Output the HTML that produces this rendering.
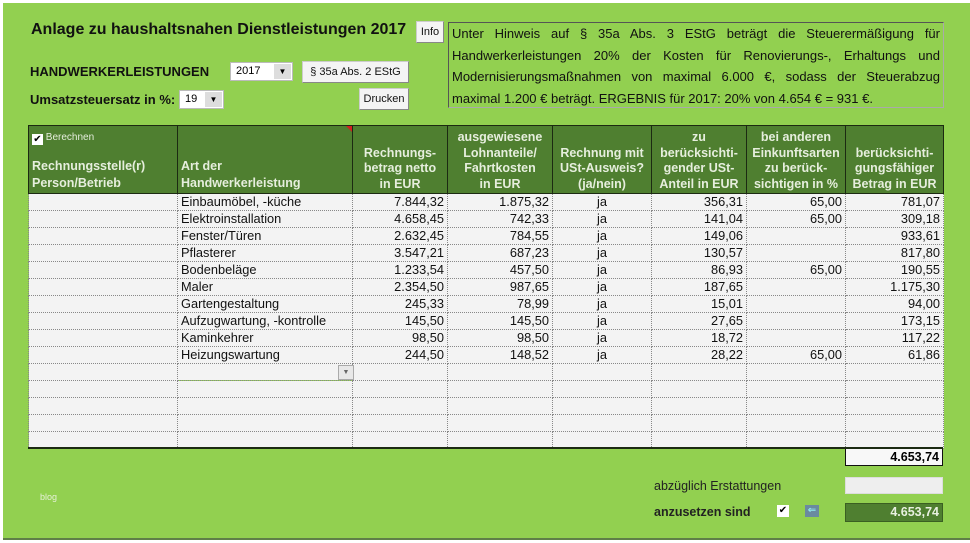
<!DOCTYPE html>
<html><head><meta charset="utf-8"><style>
*{margin:0;padding:0;box-sizing:border-box}
body{width:970px;height:543px;background:#fff;position:relative;overflow:hidden;font-family:"Liberation Sans",Arial,sans-serif}
.bg{position:absolute;left:3px;top:3px;width:967px;height:537px;background:#92d050;border-bottom:2px solid #5f7f48}
.a{position:absolute;white-space:nowrap}
.btn{position:absolute;background:#f4f4f4;border:1px solid #ccc;border-right-color:#888;border-bottom-color:#888;font-size:11px;text-align:center;color:#111}
table{position:absolute;left:28px;top:125px;border-collapse:collapse;table-layout:fixed;font-size:12.8px}
th{background:#4f7f30;color:#e6eedd;font-weight:bold;font-size:12.5px;height:68px;border:1px solid #1c2a12;vertical-align:bottom;line-height:15.5px;padding-bottom:1px}
td{background:#f3f3f3;height:17px;border:1px dotted #888;padding:0 3px;line-height:16px;color:#111}
td.r{text-align:right}td.c{text-align:center}
</style></head><body>
<div class="bg"></div>
<div class="a" style="left:31px;top:21px;font-size:16px;font-weight:bold;color:#111">Anlage zu haushaltsnahen Dienstleistungen 2017</div>
<div class="btn" style="left:416px;top:21px;width:28px;height:22px;line-height:20px">Info</div>
<div class="a" style="left:448px;top:22px;width:496px;height:86px;border:1px solid #aaa;border-left-color:#555;border-top-color:#555;font-size:13px;line-height:21.5px;color:#111;padding:0 3px;text-align:justify;text-align-last:justify;white-space:normal">Unter Hinweis auf § 35a Abs. 3 EStG beträgt die Steuerermäßigung für Handwerkerleistungen 20% der Kosten für Renovierungs-, Erhaltungs und Modernisierungsmaßnahmen von maximal 6.000 €, sodass der Steuerabzug <span style="display:inline-block;text-align-last:left">maximal 1.200 € beträgt. ERGEBNIS für 2017: 20% von 4.654 € = 931 €.</span></div>
<div class="a" style="left:30px;top:64px;font-size:13px;font-weight:bold;color:#111">HANDWERKERLEISTUNGEN</div>
<div class="a" style="left:230px;top:62px;width:63px;height:19px;background:#fff;border:1px solid #bbb;font-size:11px;line-height:17px;padding-left:5px">2017<span style="position:absolute;right:1px;top:1px;width:17px;height:15px;background:#ddd;font-size:8px;text-align:center;line-height:15px">▼</span></div>
<div class="btn" style="left:302px;top:61px;width:107px;height:22px;line-height:20px">§ 35a Abs. 2 EStG</div>
<div class="a" style="left:30px;top:92px;font-size:13px;font-weight:bold;color:#111">Umsatzsteuersatz in %:</div>
<div class="a" style="left:179px;top:90px;width:45px;height:19px;background:#fff;border:1px solid #bbb;font-size:11px;line-height:17px;padding-left:5px">19<span style="position:absolute;right:1px;top:1px;width:17px;height:15px;background:#ddd;font-size:8px;text-align:center;line-height:15px">▼</span></div>
<div class="btn" style="left:359px;top:88px;width:50px;height:22px;line-height:20px">Drucken</div>
<table>
<colgroup><col style="width:149px"><col style="width:175px"><col style="width:95px"><col style="width:105px"><col style="width:99px"><col style="width:95px"><col style="width:99px"><col style="width:98px"></colgroup>
<tr><th style="text-align:left;padding-left:3px;position:relative;line-height:17px"><span style="position:absolute;left:3px;top:3px;font-weight:normal;font-size:10px"><span style="display:inline-block;width:11px;height:11px;background:#fff;color:#000;font-size:10px;line-height:11px;text-align:center;vertical-align:-2px">✔</span> Berechnen</span>Rechnungsstelle(r)<br>Person/Betrieb</th>
<th style="text-align:left;padding-left:3px;position:relative;line-height:17px"><span style="position:absolute;right:0;top:0;border-left:6px solid transparent;border-top:6px solid #d02020"></span>Art der<br>Handwerkerleistung</th>
<th>Rechnungs-<br>betrag netto<br>in EUR</th><th>ausgewiesene<br>Lohnanteile/<br>Fahrtkosten<br>in EUR</th><th>Rechnung mit<br>USt-Ausweis?<br>(ja/nein)</th><th>zu<br>berücksichti-<br>gender USt-<br>Anteil in EUR</th><th>bei anderen<br>Einkunftsarten<br>zu berück-<br>sichtigen in %</th><th>berücksichti-<br>gungsfähiger<br>Betrag in EUR</th></tr>
<tr><td></td><td>Einbaumöbel, -küche</td><td class="r">7.844,32</td><td class="r">1.875,32</td><td class="c">ja</td><td class="r">356,31</td><td class="r">65,00</td><td class="r">781,07</td></tr>
<tr><td></td><td>Elektroinstallation</td><td class="r">4.658,45</td><td class="r">742,33</td><td class="c">ja</td><td class="r">141,04</td><td class="r">65,00</td><td class="r">309,18</td></tr>
<tr><td></td><td>Fenster/Türen</td><td class="r">2.632,45</td><td class="r">784,55</td><td class="c">ja</td><td class="r">149,06</td><td class="r"></td><td class="r">933,61</td></tr>
<tr><td></td><td>Pflasterer</td><td class="r">3.547,21</td><td class="r">687,23</td><td class="c">ja</td><td class="r">130,57</td><td class="r"></td><td class="r">817,80</td></tr>
<tr><td></td><td>Bodenbeläge</td><td class="r">1.233,54</td><td class="r">457,50</td><td class="c">ja</td><td class="r">86,93</td><td class="r">65,00</td><td class="r">190,55</td></tr>
<tr><td></td><td>Maler</td><td class="r">2.354,50</td><td class="r">987,65</td><td class="c">ja</td><td class="r">187,65</td><td class="r"></td><td class="r">1.175,30</td></tr>
<tr><td></td><td>Gartengestaltung</td><td class="r">245,33</td><td class="r">78,99</td><td class="c">ja</td><td class="r">15,01</td><td class="r"></td><td class="r">94,00</td></tr>
<tr><td></td><td>Aufzugwartung, -kontrolle</td><td class="r">145,50</td><td class="r">145,50</td><td class="c">ja</td><td class="r">27,65</td><td class="r"></td><td class="r">173,15</td></tr>
<tr><td></td><td>Kaminkehrer</td><td class="r">98,50</td><td class="r">98,50</td><td class="c">ja</td><td class="r">18,72</td><td class="r"></td><td class="r">117,22</td></tr>
<tr><td></td><td>Heizungswartung</td><td class="r">244,50</td><td class="r">148,52</td><td class="c">ja</td><td class="r">28,22</td><td class="r">65,00</td><td class="r">61,86</td></tr>
<tr><td></td><td style="position:relative"><span style="position:absolute;right:-2px;top:1px;width:16px;height:15px;background:#e8e8e8;border:1px solid #aaa;font-size:7px;text-align:center;line-height:13px;color:#666">▼</span></td><td></td><td></td><td></td><td></td><td></td><td></td></tr>
<tr><td></td><td></td><td></td><td></td><td></td><td></td><td></td><td></td></tr>
<tr><td></td><td></td><td></td><td></td><td></td><td></td><td></td><td></td></tr>
<tr><td></td><td></td><td></td><td></td><td></td><td></td><td></td><td></td></tr>
<tr><td></td><td></td><td></td><td></td><td></td><td></td><td></td><td></td></tr>
</table>
<div class="a" style="left:28px;top:447px;width:915px;height:2px;background:#1c2a12"></div>
<div class="a" style="left:845px;top:449px;width:98px;height:17px;background:#f8f8f8;border:1px solid #111;border-top:none;font-size:12.5px;font-weight:bold;text-align:right;padding-right:3px;line-height:16px">4.653,74</div>
<div class="a" style="left:40px;top:492px;font-size:9px;color:#e6f0d8">blog</div>
<div class="a" style="left:654px;top:479px;font-size:12.5px;color:#222">abzüglich Erstattungen</div>
<div class="a" style="left:845px;top:477px;width:98px;height:17px;background:#eeeeee;border:1px solid #ddd"></div>
<div class="a" style="left:654px;top:505px;font-size:12.5px;font-weight:bold;color:#222">anzusetzen sind</div>
<div class="a" style="left:777px;top:505px;width:12px;height:12px;background:#fff;font-size:10px;line-height:12px;text-align:center">✔</div>
<div class="a" style="left:805px;top:505px;width:14px;height:12px;background:#6a8aa0;color:#9ff;font-size:10px;line-height:12px;text-align:center">⇐</div>
<div class="a" style="left:845px;top:503px;width:98px;height:19px;background:#4f7f30;border:1px solid #3a5f22;color:#e8f0e0;font-size:12.5px;font-weight:bold;text-align:right;padding-right:3px;line-height:17px">4.653,74</div>
</body></html>
